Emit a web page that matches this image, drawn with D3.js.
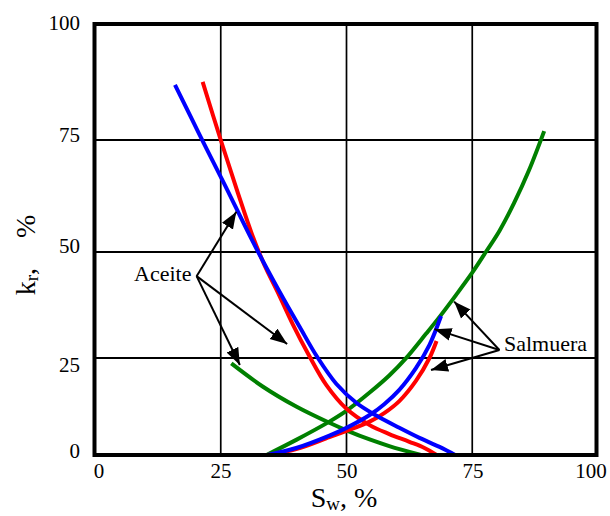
<!DOCTYPE html>
<html>
<head>
<meta charset="utf-8">
<script src="https://cdn.jsdelivr.net/npm/d3@7"></script>
<style>
  html, body { margin: 0; padding: 0; background: #fff; }
  svg { display: block; }
</style>
</head>
<body>
<svg id="chart" width="610" height="516"></svg>
<script>
// Relative permeability curves, kr (%) versus water saturation Sw (%)
const xTicks = [0, 25, 50, 75, 100];
const yTicks = [0, 25, 50, 75, 100];

// Oil (aceite) curves
const swOilBlue = [15.9, 20.8, 25.8, 30.8, 34.3, 37.5, 40.7, 44.2, 48.0, 52.0, 56.0, 60.5, 64.5, 68.5, 71.6];
const krOilBlue = [86.8, 76.1, 65.0, 53.6, 45.8, 38.9, 32.3, 25.2, 18.3, 13.4, 10.1, 7.0, 4.4, 2.1, 0];
const swOilRed = [21.4, 25.0, 28.4, 31.2, 33.7, 36.3, 39.3, 42.5, 46.0, 50.0, 54.6, 58.5, 62.5, 65.5, 67.9];
const krOilRed = [87.4, 75.0, 63.2, 54.0, 46.9, 40.6, 33.0, 25.7, 18.0, 11.9, 7.7, 5.4, 3.4, 1.8, 0];
const swOilGreen = [27.1, 33.4, 40.0, 46.6, 50.1, 54.6, 58.5, 64.8];
const krOilGreen = [23.6, 17.6, 12.5, 8.3, 6.3, 4.0, 2.3, 0];

// Brine (salmuera) curves
const swBrineGreen = [34.1, 40.0, 46.6, 50.1, 54.6, 58.5, 61.8, 65.8, 68.5, 71.8, 75.1, 77.7, 80.4, 83.3, 86.3, 89.3];
const krBrineGreen = [0, 3.9, 8.6, 11.5, 16.1, 20.5, 24.9, 30.7, 34.7, 39.9, 45.3, 50.0, 54.7, 60.9, 68.3, 76.9];
const swBrineBlue = [34.3, 40.0, 46.6, 50.0, 54.6, 57.5, 60.5, 63.8, 66.5, 68.8];
const krBrineBlue = [0, 1.8, 5.0, 7.0, 10.3, 13.1, 16.8, 22.4, 28.1, 34.9];
const swBrineRed = [34.3, 40.0, 46.6, 50.0, 54.6, 57.5, 60.5, 63.8, 66.5, 67.9];
const krBrineRed = [0, 1.5, 4.6, 6.2, 8.6, 10.8, 13.9, 19.1, 25.0, 29.0];

// Callouts: label, anchor point and arrow tips (data units)
const oilLabel = "Aceite";
const oilFrom = [20.2, 44.3];
const oilTips = [[28.1, 59.0], [38.2, 28.3], [28.8, 23.2]];
const brineLabel = "Salmuera";
const brineFrom = [80.4, 26.9];
const brineTips = [[71.4, 38.3], [67.5, 31.8], [66.8, 21.9]];

const series = [
  { sw: swOilGreen,   kr: krOilGreen,   color: "#008000" },
  { sw: swBrineGreen, kr: krBrineGreen, color: "#008000" },
  { sw: swOilRed,     kr: krOilRed,     color: "#ff0000" },
  { sw: swBrineRed,   kr: krBrineRed,   color: "#ff0000" },
  { sw: swOilBlue,    kr: krOilBlue,    color: "#0000ff" },
  { sw: swBrineBlue,  kr: krBrineBlue,  color: "#0000ff" }
];

const FONT = '"Liberation Serif"';
const svg = d3.select("#chart");

// The printed grid is not evenly spaced vertically, so the y scale is piecewise linear
const x = d3.scaleLinear().domain([0, 100]).range([95, 598]);
const y = d3.scaleLinear().domain(yTicks).range([455, 358, 252, 140, 23]);
// Tick label placement
const xLab = d3.scaleLinear().domain(xTicks).range([99, 221, 347, 473, 591]);
const yLab = d3.scaleLinear().domain(yTicks).range([458, 372, 253, 142, 30]);

// Grid
const grid = svg.append("g").attr("stroke", "#000");
grid.selectAll("line.v").data(xTicks.slice(1, -1)).join("line")
  .attr("stroke-width", 1.7)
  .attr("x1", d => x(d)).attr("x2", d => x(d))
  .attr("y1", y(0)).attr("y2", y(100));
grid.selectAll("line.h").data(yTicks.slice(1, -1)).join("line")
  .attr("stroke-width", 2)
  .attr("x1", x(0)).attr("x2", x(100))
  .attr("y1", d => y(d)).attr("y2", d => y(d));

// Curves
const line = d3.line()
  .x(d => x(d[0])).y(d => y(d[1]))
  .curve(d3.curveCatmullRom.alpha(0.5));
svg.append("g").selectAll("path").data(series).join("path")
  .attr("d", s => line(d3.zip(s.sw, s.kr)))
  .attr("fill", "none")
  .attr("stroke", s => s.color)
  .attr("stroke-width", 4)
  .attr("stroke-linecap", "butt");

// Frame
svg.append("rect")
  .attr("x", x(0) - 0.5).attr("y", y(100) + 1)
  .attr("width", x(100) - x(0) - 1).attr("height", y(0) - y(100) - 1)
  .attr("fill", "none").attr("stroke", "#000").attr("stroke-width", 4);

// Tick labels
svg.append("g").selectAll("text").data(yTicks).join("text")
  .attr("x", 80).attr("y", d => yLab(d))
  .attr("text-anchor", "end").attr("font-size", 21)
  .style("font-family", FONT)
  .text(d => d);
svg.append("g").selectAll("text").data(xTicks).join("text")
  .attr("x", d => xLab(d)).attr("y", 478)
  .attr("text-anchor", "middle").attr("font-size", 21)
  .style("font-family", FONT)
  .text(d => d);

// Axis titles
const xt = svg.append("text").attr("x", 344).attr("y", 507)
  .attr("text-anchor", "middle").attr("font-size", 28)
  .style("font-family", FONT);
xt.append("tspan").text("S");
xt.append("tspan").attr("font-size", 19).attr("dy", 3).text("w");
xt.append("tspan").attr("dy", -3).text(", %");

const yt = svg.append("text")
  .attr("transform", "translate(35,255) rotate(-90)")
  .attr("text-anchor", "middle").attr("font-size", 28)
  .style("font-family", FONT);
yt.append("tspan").text("k");
yt.append("tspan").attr("font-size", 19).attr("dy", 3).text("r");
yt.append("tspan").attr("dy", -3).text(",");
yt.append("tspan").attr("dx", 30).text("%");

// Arrowhead
svg.append("defs").append("marker")
  .attr("id", "head")
  .attr("markerUnits", "userSpaceOnUse")
  .attr("viewBox", "0 -7 17 14")
  .attr("refX", 17).attr("refY", 0)
  .attr("markerWidth", 17).attr("markerHeight", 14)
  .attr("orient", "auto")
  .append("path").attr("d", "M0,-6.5L17,0L0,6.5Z").attr("fill", "#000");

function callout(label, from, tips, tx, ty) {
  const g = svg.append("g");
  g.selectAll("line").data(tips).join("line")
    .attr("x1", x(from[0])).attr("y1", y(from[1]))
    .attr("x2", d => x(d[0])).attr("y2", d => y(d[1]))
    .attr("stroke", "#000").attr("stroke-width", 2)
    .attr("marker-end", "url(#head)");
  g.append("text").attr("x", tx).attr("y", ty)
    .attr("font-size", 22)
    .style("font-family", FONT)
    .text(label);
}
callout(oilLabel, oilFrom, oilTips, 134, 281);
callout(brineLabel, brineFrom, brineTips, 504, 351);
</script>
</body>
</html>
